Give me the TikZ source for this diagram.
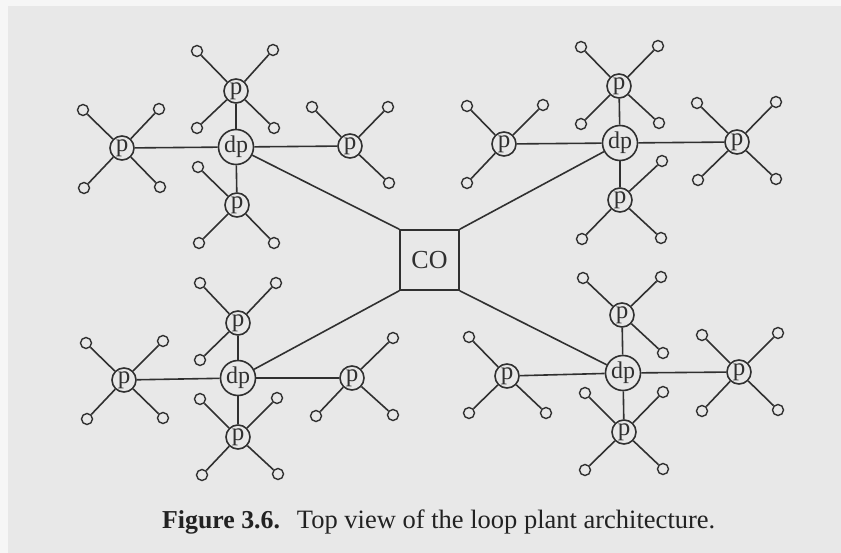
\documentclass[tikz,border=0pt]{standalone}
\usepackage{fontspec}
\setmainfont{Liberation Serif}
\definecolor{bg}{RGB}{232,232,232}
\definecolor{ink}{RGB}{48,48,48}
\tikzset{
 wire/.style={draw=ink, line width=1.6pt},
 pnode/.style={circle, draw=ink, line width=1.6pt, minimum size=24pt, inner sep=0pt, font=\fontsize{25}{25}\selectfont, text=ink},
 dpnode/.style={circle, draw=ink, line width=1.6pt, minimum size=35pt, inner sep=0pt, font=\fontsize{24}{24}\selectfont, text=ink},
 leaf/.style={circle, draw=ink, line width=1.4pt, minimum size=11pt, inner sep=0pt},
 cobox/.style={rectangle, draw=ink, line width=1.6pt, minimum width=59pt, minimum height=60pt, inner sep=0pt, font=\fontsize{26}{26}\selectfont, text=ink},
 captext/.style={anchor=base west, inner sep=0pt, text=ink!70!black},
}
\newcommand\pedestal[4]{%
  \node[pnode] (#1) at (#2,#3) {p};
  \foreach \lx/\ly [count=\i] in {#4} {
    \node[leaf] (#1-\i) at (\lx,\ly) {};
    \draw[wire] (#1) -- (#1-\i);
  }
}
\begin{document}
\begin{tikzpicture}[x=1pt,y=-1pt]
\fill[bg] (0,0) rectangle (841,553);
\fill[white!60!bg] (0,0) rectangle (8,553);
\fill[white!60!bg] (0,0) rectangle (841,6);
\useasboundingbox (0,0) rectangle (841,553);

\node[cobox] (CO) at (429.5,260) {CO};

% upper-left distribution point
\node[dpnode] (dA) at (236,147) {dp};
\pedestal{pA1}{236}{91}{197/51,273/50,197/128,274/128}
\pedestal{pA2}{122}{148}{83/110,159/109,84/188,160/187}
\pedestal{pA3}{350}{146}{312/107,388/107,389/183}
\pedestal{pA4}{237}{205}{198/167,199/243,274/243}
\draw[wire] (dA) -- (pA1);
\draw[wire] (dA) -- (pA2);
\draw[wire] (dA) -- (pA3);
\draw[wire] (dA) -- (pA4);

% upper-right distribution point
\node[dpnode] (dB) at (620,143) {dp};
\pedestal{pB1}{619}{86}{581/47,658/46,581/124,659/123}
\pedestal{pB2}{504}{144}{467/106,543/105,467/183}
\pedestal{pB3}{737}{142}{697/103,776/102,698/180,776/179}
\pedestal{pB4}{620}{200}{662/161,582/239,661/238}
\draw[wire] (dB) -- (pB1);
\draw[wire] (dB) -- (pB2);
\draw[wire] (dB) -- (pB3);
\draw[wire] (dB) -- (pB4);

% lower-left distribution point
\node[dpnode] (dC) at (238,378) {dp};
\pedestal{pC1}{238}{323}{200/283,276/283,200/360}
\pedestal{pC2}{124}{380}{86/343,163/341,87/419,163/418}
\pedestal{pC3}{352}{378}{393/338,316/416,393/415}
\pedestal{pC4}{238}{437}{200/399,277/398,202/475,278/474}
\draw[wire] (dC) -- (pC1);
\draw[wire] (dC) -- (pC2);
\draw[wire] (dC) -- (pC3);
\draw[wire] (dC) -- (pC4);

% lower-right distribution point
\node[dpnode] (dD) at (623,373) {dp};
\pedestal{pD1}{622}{315}{583/278,661/277,663/353}
\pedestal{pD2}{507}{376}{469/337,469/413,546/413}
\pedestal{pD3}{739}{372}{702/335,778/333,702/411,778/410}
\pedestal{pD4}{624}{432}{585/393,663/392,585/470,663/469}
\draw[wire] (dD) -- (pD1);
\draw[wire] (dD) -- (pD2);
\draw[wire] (dD) -- (pD3);
\draw[wire] (dD) -- (pD4);

% feeder cables from the central office
\draw[wire] (CO.north west) -- (dA);
\draw[wire] (CO.north east) -- (dB);
\draw[wire] (CO.south west) -- (dC);
\draw[wire] (CO.south east) -- (dD);

\node[captext] (cap) at (162,528) {\fontsize{25.8}{26}\selectfont\textbf{Figure 3.6.}\hspace{17pt}\fontsize{26.5}{27}\selectfont Top view of the loop plant architecture.};
\end{tikzpicture}
\end{document}
